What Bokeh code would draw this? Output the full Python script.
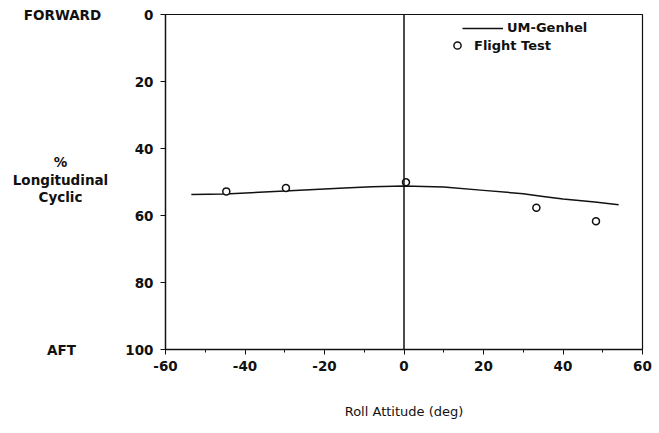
from bokeh.plotting import figure
from bokeh.layouts import row
from bokeh.models import Range1d, Span, Legend, LegendItem, FixedTicker
from bokeh.core.properties import value
from bokeh.embed import file_html
from bokeh.resources import INLINE

# --- data ---
model_x = [-53.5, -45, -30, -15, -8, 0, 10, 20, 30, 35, 40, 48, 54]
model_y = [53.7, 53.6, 52.7, 51.8, 51.4, 51.2, 51.5, 52.5, 53.5, 54.3, 55.1, 56.0, 56.8]
flight_x = [-44.7, -29.7, 0.5, 33.3, 48.3]
flight_y = [52.8, 51.8, 50.1, 57.7, 61.7]
x_ticks = [-60, -40, -20, 0, 20, 40, 60]
x_minor = [-50, -30, -10, 10, 30, 50]
y_ticks = [0, 20, 40, 60, 80, 100]
series_names = ["UM-Genhel", "Flight Test"]
side_texts = ["FORWARD", "AFT", "%", "Longitudinal", "Cyclic"]
side_y = [0, 100, 44.1, 49.3, 54.5]
side_x = [62, 61, 60, 60, 60]
x_title = "Roll Attitude (deg)"

FONT = "DejaVu Sans"
INK = "#111111"

TOP, BOTTOM = 14, 84
LEFT_W = 120
H = 433

# ---------------- main chart ----------------
p = figure(width=659 - LEFT_W, height=H, output_backend="svg", toolbar_location=None,
           x_range=Range1d(-60, 60), y_range=Range1d(100, 0),
           min_border_left=165 - LEFT_W, min_border_right=17,
           min_border_top=TOP, min_border_bottom=BOTTOM)
p.background_fill_color = "white"
p.border_fill_color = "white"
p.grid.visible = False
p.outline_line_color = INK
p.outline_line_width = 1.2

xa = p.xaxis[0]
xa.ticker = FixedTicker(ticks=x_ticks, minor_ticks=x_minor)
xa.major_label_overrides = {t: str(t) for t in x_ticks}
xa.major_tick_in = 0
xa.major_tick_out = 5
xa.minor_tick_in = 0
xa.minor_tick_out = 3
xa.axis_line_color = INK
xa.axis_line_width = 1.3
xa.major_tick_line_color = INK
xa.minor_tick_line_color = INK
xa.major_label_text_font = FONT
xa.major_label_text_font_style = "bold"
xa.major_label_text_font_size = "13.5px"
xa.major_label_text_color = INK
xa.major_label_standoff = 6
xa.axis_label = x_title
xa.axis_label_text_font = FONT
xa.axis_label_text_font_style = "normal"
xa.axis_label_text_font_size = "13px"
xa.axis_label_text_color = INK
xa.axis_label_standoff = 30

ya = p.yaxis[0]
ya.ticker = FixedTicker(ticks=y_ticks, minor_ticks=[])
ya.major_tick_in = 0
ya.major_tick_out = 5
ya.minor_tick_in = 0
ya.minor_tick_out = 0
ya.axis_line_color = INK
ya.axis_line_width = 1.3
ya.major_tick_line_color = INK
ya.major_label_text_font = FONT
ya.major_label_text_font_style = "bold"
ya.major_label_text_font_size = "13.5px"
ya.major_label_text_color = INK
ya.major_label_standoff = 7

p.add_layout(Span(location=0, dimension="height", line_color=INK, line_width=1.5))

r_line = p.line(model_x, model_y, line_color=INK, line_width=1.5)
r_pts = p.scatter(flight_x, flight_y, marker="circle", size=7,
                  fill_color="white", line_color=INK, line_width=1.5)

def make_legend(item, loc, gw, gh, standoff):
    lg = Legend(items=[item], location=loc, orientation="vertical",
                glyph_width=gw, glyph_height=gh, label_height=gh,
                label_standoff=standoff, padding=0, margin=0, spacing=0,
                border_line_alpha=0, background_fill_alpha=0,
                label_text_font=FONT, label_text_font_style="bold",
                label_text_font_size="13px", label_text_color=INK)
    p.add_layout(lg)

make_legend(LegendItem(label=series_names[0], renderers=[r_line]), (297, 314), 41, 14, 4)
make_legend(LegendItem(label=series_names[1], renderers=[r_pts]), (283, 295), 18, 18, 8)

# ---------------- left side captions ----------------
scale = (H - TOP - BOTTOM) / 100.0
side = figure(width=LEFT_W, height=H, output_backend="svg", toolbar_location=None,
              x_range=Range1d(0, LEFT_W),
              y_range=Range1d(100 + BOTTOM / scale, -TOP / scale),
              x_axis_location=None, y_axis_location=None,
              min_border_left=0, min_border_right=0,
              min_border_top=0, min_border_bottom=0)
side.frame_align = False
side.grid.visible = False
side.outline_line_color = None
side.background_fill_color = "white"
side.border_fill_color = "white"
side.text(x=side_x, y=side_y, text=side_texts, text_align="center",
          text_baseline="middle", text_font=value(FONT), text_font_style="bold",
          text_font_size="13.5px", text_color=INK)

layout = row(side, p, spacing=0)
open("out.html", "w").write(file_html(layout, INLINE))
